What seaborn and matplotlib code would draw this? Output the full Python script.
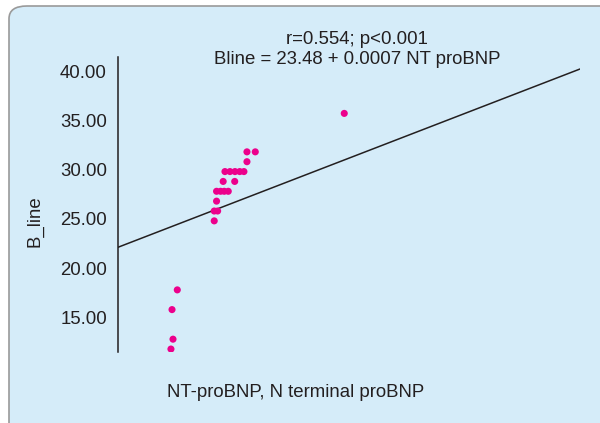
import matplotlib.pyplot as plt
import seaborn as sns
import pandas as pd
from matplotlib.patches import FancyBboxPatch

# data
nt_probnp = [1020, 1135, 1080, 1375, 3440, 3440, 3630, 3570,
             3570, 3795, 4000, 4225, 3940, 4585,
             4040, 4320, 4600, 4865, 5100, 5270, 5270, 5735, 10710]
b_line = [11.8, 12.8, 15.8, 17.8, 24.8, 25.8, 25.8, 26.8,
          27.8, 27.8, 27.8, 27.8, 28.8, 28.8,
          29.8, 29.8, 29.8, 29.8, 29.8, 30.8, 31.8, 31.8, 35.7]
intercept = 23.48
slope = 0.0007
y_ticks = [15, 20, 25, 30, 35, 40]

df = pd.DataFrame({"NT": nt_probnp, "B": b_line})

sns.set_style("white")
plt.rcParams["font.family"] = ["Liberation Sans", "DejaVu Sans"]
txt = "#231f20"
bg = "#d5ecf9"
fs = 13.4

fig = plt.figure(figsize=(6, 4.23), dpi=100)
fig.patch.set_facecolor("white")
box = FancyBboxPatch((9 / 600, -0.1), 1.2, 1.1 - 6 / 423,
                     boxstyle="round,pad=0,rounding_size=0.03",
                     transform=fig.transFigure, facecolor=bg,
                     edgecolor="#9a9a9a", linewidth=1.2, zorder=-10)
fig.add_artist(box)

ax = fig.add_axes([118 / 600, 1 - 352 / 423, (580 - 118) / 600, (352 - 57) / 423])
ax.set_facecolor("none")
ax.set_zorder(1)

sns.scatterplot(data=df, x="NT", y="B", ax=ax, color="#ec008c", s=26,
                edgecolor="none", zorder=3)
ax.axline((0, intercept), slope=slope, color="#231f20", lw=1.1, zorder=2)

ax.set_xlim(-1940, 23890)
ax.set_ylim(11.5, 41.42)
ax.set_yticks(y_ticks)
ax.set_yticklabels([f"{v:.2f}" for v in y_ticks], fontsize=fs, color=txt)
ax.set_xticks([])
ax.tick_params(axis="y", length=0, pad=8)
for side in ["top", "right", "bottom"]:
    ax.spines[side].set_visible(False)
ax.spines["left"].set_color("#231f20")
ax.spines["left"].set_linewidth(1.1)
ax.set_xlabel("")
ax.set_ylabel("")

fig.text(35 / 600, 1 - 221 / 423, "B_line", rotation=90, ha="center",
         va="center", fontsize=fs, color=txt, zorder=5)
fig.text(296 / 600, 1 - 392 / 423, "NT-proBNP, N terminal proBNP",
         ha="center", va="center", fontsize=fs, color=txt, zorder=5)
fig.text(357 / 600, 1 - 40 / 423, "r=0.554; p<0.001",
         ha="center", va="center", fontsize=fs, color=txt, zorder=5)
fig.text(357 / 600, 1 - 60 / 423, "Bline = 23.48 + 0.0007 NT proBNP",
         ha="center", va="center", fontsize=fs, color=txt, zorder=5)

fig.savefig("out.png", dpi=100)
